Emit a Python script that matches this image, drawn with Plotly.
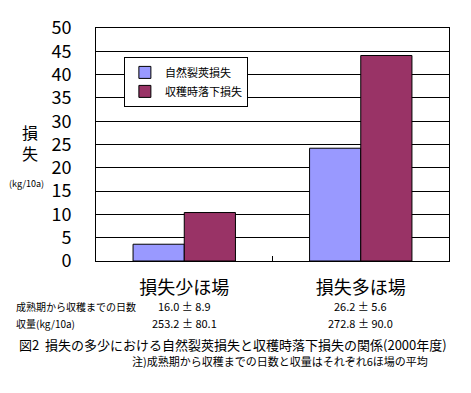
import plotly.graph_objects as go

categories = ["損失少ほ場", "損失多ほ場"]
series_names = ["自然裂莢損失", "収穫時落下損失"]
natural_loss = [3.6, 24.2]
harvest_loss = [10.4, 44.1]
days_to_harvest = ["16.0 ± 8.9", "26.2 ± 5.6"]
yield_kg = ["253.2 ± 80.1", "272.8 ± 90.0"]
row_labels = ["成熟期から収穫までの日数", "収量(kg/10a)"]
caption = "図2  損失の多少における自然裂莢損失と収穫時落下損失の関係(2000年度)"
note = "注)成熟期から収穫までの日数と収量はそれぞれ6ほ場の平均"

FONT = "Noto Sans CJK JP"
colors = ["#9999FF", "#993366"]

fig = go.Figure()
for name, vals, col in zip(series_names, [natural_loss, harvest_loss], colors):
    fig.add_trace(go.Bar(
        x=categories, y=vals, name=name,
        marker=dict(color=col, line=dict(color="black", width=1)),
    ))


def ann(text, x, y, xshift, yshift, size, xanchor="center", xref="paper"):
    return dict(text=text, xref=xref, yref="paper", x=x, y=y,
                xshift=xshift, yshift=yshift, xanchor=xanchor, yanchor="middle",
                showarrow=False, font=dict(size=size, family=FONT, color="black"))


annotations = []
# y axis title
annotations.append(ann("損<br>失", 0, 1, -66, -114, 16))
annotations.append(ann("(kg/10a)", 0, 1, -70, -155, 9))
# table rows
for i, (lab, vals) in enumerate(zip(row_labels, [days_to_harvest, yield_kg])):
    shift = -(45 + 17 * i)
    annotations.append(ann(lab, 0, 0, -82, shift, 10, xanchor="left"))
    for c, v in zip(categories, vals):
        annotations.append(ann(v, c, 0, 0, shift, 11, xref="x"))
annotations.append(ann(caption, 0, 0, -79, -83, 13, xanchor="left"))
annotations.append(ann(note, 0, 0, 34, -100, 11, xanchor="left"))

fig.update_layout(
    width=471, height=393,
    margin=dict(l=96, r=22, t=28, b=132, autoexpand=False),
    paper_bgcolor="white", plot_bgcolor="white",
    barmode="group", bargap=0.42, bargroupgap=0,
    font=dict(family=FONT, color="black"),
    showlegend=True,
    legend=dict(x=0.079, y=0.876, xanchor="left", yanchor="top",
                bgcolor="white", bordercolor="black", borderwidth=1,
                font=dict(size=11, family=FONT), itemwidth=30,
                tracegroupgap=0),
    xaxis=dict(showline=True, linecolor="black", linewidth=1, mirror=True,
               ticks="inside", tickson="boundaries", ticklen=5, tickcolor="black",
               tickfont=dict(size=18, family=FONT), showgrid=False,
               ticklabelstandoff=10, automargin=False),
    yaxis=dict(range=[0, 50], dtick=5, showline=True, linecolor="black", linewidth=1,
               mirror=True, showgrid=True, gridcolor="black", gridwidth=1,
               ticks="", tickfont=dict(size=18, family=FONT), ticklabelstandoff=20,
               zeroline=False, automargin=False),
    annotations=annotations,
)

fig.write_html("out.html", config={"displayModeBar": False},
               post_script="document.body.style.margin='0';")
